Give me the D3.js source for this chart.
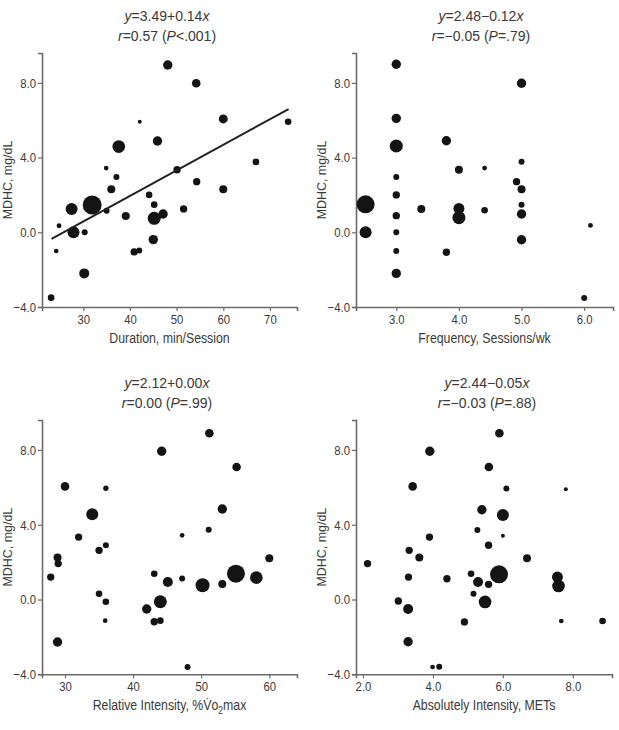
<!DOCTYPE html>
<html><head><meta charset="utf-8">
<script src="https://cdn.jsdelivr.net/npm/d3@7"></script>
<style>
html,body{margin:0;padding:0;background:#fff;}
svg text{font-family:"Liberation Sans Narrow","Arial Narrow","Liberation Sans",sans-serif;fill:#3a3a3a;}
</style></head><body>
<svg id="c" width="619" height="730"></svg>
<script>
// ---------- DATA ----------
// Panel A: Duration
const durX = [48.1,54.2,42.1,60.0,73.9,37.6,45.9,34.9,50.1,67.0,37.1,54.3,36.0,44.1,45.2,51.5,60.0,27.5,31.9,35.0,24.8,27.9,30.3,39.1,45.2,47.1,45.0,40.9,42.0,24.2,30.2,23.1];
const durY = [8.96,7.98,5.92,6.07,5.92,4.59,4.89,3.44,3.35,3.77,2.96,2.71,2.30,2.00,1.48,1.25,2.30,1.25,1.46,1.16,0.35,0.00,0.00,0.87,0.75,0.98,-0.39,-1.05,-0.98,-1.00,-2.20,-3.50];
const durN = [44,37,8,40,22,80,44,11,27,22,18,27,32,22,22,27,32,72,180,18,12,72,18,32,85,44,44,27,18,11,50,22];
const durFitX = [23.2,74.0];
const durFitY = [-0.35,6.6];

// Panel B: Frequency
const freqX = [3.0,5.0,3.0,3.0,3.8,4.0,4.41,5.0,3.0,4.92,5.0,3.0,5.0,2.51,3.4,4.0,4.0,4.41,5.0,3.0,6.1,2.51,3.0,5.0,3.0,3.8,3.0,6.0];
const freqY = [9.0,7.98,6.1,4.62,4.9,3.35,3.44,3.78,2.96,2.71,2.3,2.0,1.48,1.5,1.25,1.28,0.78,1.18,0.98,0.89,0.37,0.0,0.0,-0.4,-1.0,-1.07,-2.2,-3.52];
const freqN = [44,44,44,85,44,32,11,18,18,27,32,27,18,162,32,60,85,22,44,27,12,72,18,44,18,27,44,18];

// Panel C: Relative intensity
const relX = [51.2,44.2,55.2,30.0,36.0,34.0,53.1,32.0,47.2,51.1,35.0,36.0,28.9,29.0,27.9,60.0,43.1,47.2,45.1,50.2,53.1,55.1,58.1,35.0,36.0,44.0,42.0,43.1,44.0,35.9,28.9,48.0];
const relY = [8.89,7.93,7.09,6.05,5.95,4.56,4.84,3.34,3.43,3.73,2.63,2.9,2.24,1.92,1.2,2.2,1.38,1.13,0.94,0.76,0.83,1.38,1.17,0.31,-0.12,-0.12,-0.51,-1.19,-1.13,-1.13,-2.27,-3.61];
const relN = [37,44,37,37,14,72,44,27,11,18,27,18,32,27,27,32,22,18,50,98,32,162,80,22,22,85,44,27,22,11,44,18];

// Panel D: Absolute intensity
const absX = [5.9,3.91,5.6,3.42,6.1,7.8,5.4,6.0,3.9,5.27,6.0,5.59,3.32,3.61,6.69,2.13,5.09,5.89,7.56,7.59,3.3,4.4,5.29,5.59,5.16,3.01,5.49,3.29,4.9,7.67,8.85,3.29,3.99,4.18];
const absY = [8.89,7.93,7.09,6.05,5.93,5.9,4.8,4.52,3.34,3.72,3.41,2.9,2.63,2.24,2.2,1.92,1.38,1.35,1.2,0.72,1.2,1.11,0.94,0.81,0.31,-0.08,-0.13,-0.51,-1.2,-1.15,-1.15,-2.26,-3.61,-3.59];
const absN = [37,44,37,37,18,8,44,72,27,18,8,27,27,32,32,27,22,162,60,80,27,27,50,27,18,27,80,50,27,11,22,44,11,18];

const yTicks = [-4,0,4,8];
const yTickLabels = ["\u22124.0","0.0","4.0","8.0"];
const durTicks = [30,40,50,60,70];
const durTickLabels = ["30","40","50","60","70"];
const freqTicks = [3,4,5,6];
const freqTickLabels = ["3.0","4.0","5.0","6.0"];
const relTicks = [30,40,50,60];
const relTickLabels = ["30","40","50","60"];
const absTicks = [2,4,6,8];
const absTickLabels = ["2.0","4.0","6.0","8.0"];

// ---------- DRAW ----------
const svg = d3.select("#c");
const rScale = d3.scaleSqrt().domain([0,200]).range([0,10]);

function condense(sel, f){
  sel.each(function(){
    const w = this.getComputedTextLength();
    this.setAttribute("textLength", (w*f).toFixed(2));
    this.setAttribute("lengthAdjust","spacingAndGlyphs");
  });
}

function panel(o){
  const g = svg.append("g");
  const x = d3.scaleLinear().domain(o.xDom).range([o.left, o.right]);
  const y = d3.scaleLinear().domain([-4, 9.6]).range([o.bottom, o.top]);
  const xa = d3.axisBottom(x).tickValues(o.xTicks).tickFormat((d,i)=>o.xLabels[i]).tickSizeOuter(0).tickSize(4).tickPadding(3);
  const ya = d3.axisLeft(y).tickValues(yTicks).tickFormat((d,i)=>yTickLabels[i]).tickSizeOuter(0).tickSize(4).tickPadding(2);
  const gx = g.append("g").attr("transform",`translate(0,${o.bottom})`).call(xa);
  const gy = g.append("g").attr("transform",`translate(${o.left},0)`).call(ya);
  [gx,gy].forEach(a=>{
    a.select(".domain").attr("stroke","#6b6b6b").attr("stroke-width",1.6);
    a.selectAll(".tick line").attr("stroke","#6b6b6b").attr("stroke-width",1.2);
    a.selectAll(".tick text").style("font-size","13.5px").attr("fill","#3a3a3a");
    condense(a.selectAll(".tick text"), 0.84);
  });
  // points
  const pts = o.xs.map((v,i)=>({x:v,y:o.ys[i],n:o.ns[i]}));
  g.append("g").selectAll("circle").data(pts).join("circle")
    .attr("cx",d=>x(d.x)).attr("cy",d=>y(d.y)).attr("r",d=>rScale(d.n))
    .attr("fill","#141414");
  if(o.fitX){
    g.append("line")
      .attr("x1",x(o.fitX[0])).attr("y1",y(o.fitY[0]))
      .attr("x2",x(o.fitX[1])).attr("y2",y(o.fitY[1]))
      .attr("stroke","#222").attr("stroke-width",2);
  }
  // y label
  const cy = (o.top+o.bottom)/2;
  const yl = g.append("text").attr("transform",`translate(${o.left-30},${cy}) rotate(-90)`)
    .attr("text-anchor","middle").style("font-size","13.5px").text("MDHC, mg/dL");
  condense(yl, 0.92);
  // x label (horizontally condensed by transform)
  const xl = g.append("g").attr("transform",`translate(${(o.left+o.right)/2},${o.bottom+36}) scale(0.85,1)`)
    .append("text").attr("x",0).attr("y",0)
    .attr("text-anchor","middle").style("font-size","14.5px");
  o.xTitle(xl);
  // title
  const t1 = g.append("text").attr("x",o.tx).attr("y",o.ty).attr("text-anchor","middle").style("font-size","14px");
  t1.append("tspan").style("font-style","italic").text("y");
  t1.append("tspan").text(o.eq);
  t1.append("tspan").style("font-style","italic").text("x");
  const t2 = g.append("text").attr("x",o.tx).attr("y",o.ty+20).attr("text-anchor","middle").style("font-size","14px");
  t2.append("tspan").style("font-style","italic").text("r");
  t2.append("tspan").text(o.r1);
  t2.append("tspan").style("font-style","italic").text("P");
  t2.append("tspan").text(o.r2);
}

panel({xs:durX,ys:durY,ns:durN,fitX:durFitX,fitY:durFitY,
  xDom:[21.15,75.8],left:42,right:297,top:53,bottom:307,
  xTicks:durTicks,xLabels:durTickLabels,tx:167,ty:21,
  eq:"=3.49+0.14",r1:"=0.57 (",r2:"<.001)",
  xTitle:t=>t.text("Duration, min/Session")});
panel({xs:freqX,ys:freqY,ns:freqN,
  xDom:[2.357,6.46],left:356,right:613,top:53,bottom:307,
  xTicks:freqTicks,xLabels:freqTickLabels,tx:481,ty:21,
  eq:"=2.48\u22120.12",r1:"=\u22120.05 (",r2:"=.79)",
  xTitle:t=>t.text("Frequency, Sessions/wk")});
panel({xs:relX,ys:relY,ns:relN,
  xDom:[26.62,64.07],left:42,right:297,top:420,bottom:674.3,
  xTicks:relTicks,xLabels:relTickLabels,tx:167,ty:388,
  eq:"=2.12+0.00",r1:"=0.00 (",r2:"=.99)",
  xTitle:t=>{t.append("tspan").text("Relative Intensity, %V\u0307o");
    t.append("tspan").attr("dy",4).style("font-size","10px").text("2");
    t.append("tspan").attr("dy",-4).text("max");}});
panel({xs:absX,ys:absY,ns:absN,
  xDom:[1.8,9.12],left:356,right:612,top:420,bottom:674.3,
  xTicks:absTicks,xLabels:absTickLabels,tx:487,ty:388,
  eq:"=2.44\u22120.05",r1:"=\u22120.03 (",r2:"=.88)",
  xTitle:t=>t.text("Absolutely Intensity, METs")});
</script></body></html>
